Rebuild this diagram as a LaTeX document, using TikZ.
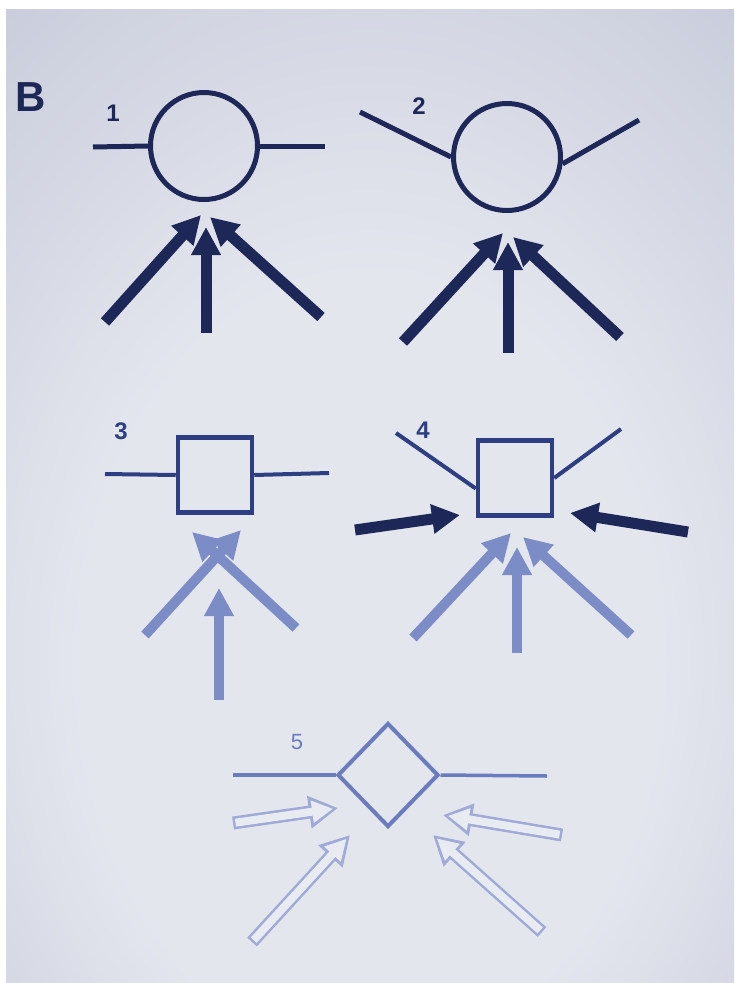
\documentclass[tikz,border=0pt]{standalone}
\usepackage{fontspec}
\setmainfont{Liberation Sans}
\usetikzlibrary{arrows.meta,shapes.geometric}
\definecolor{navy}{HTML}{1E2858}
\definecolor{midnavy}{HTML}{2E3E82}
\definecolor{softblue}{HTML}{7C8CC6}
\definecolor{paleblue}{HTML}{6A7CBE}
\definecolor{ghostline}{HTML}{A0AAD6}
\definecolor{ghostfill}{HTML}{E9EBF3}
\definecolor{glowin}{HTML}{E4E6EE}
\definecolor{glowmid}{HTML}{BEC3D4}
\definecolor{glowout}{HTML}{8A92AE}
\pgfdeclareradialshading{screenglow}{\pgfpoint{0bp}{-12bp}}{color(0bp)=(glowin); color(20bp)=(glowin); color(48bp)=(glowmid); color(72bp)=(glowout)}
\newcommand\hollowarrow[2]{%
	\draw[ghostout] (#1) -- (#2);
	\draw[ghostin] (#1) -- (#2);}

\begin{document}
\begin{tikzpicture}[x=1pt, y=-1pt,
	ring/.style={circle, draw=navy, line width=5pt, minimum size=107pt, inner sep=0pt},
	tile/.style={rectangle, draw=midnavy, line width=4.5pt, minimum width=74pt, minimum height=75pt, inner sep=0pt},
	gem/.style={diamond, draw=paleblue, line width=4pt, minimum width=101pt, minimum height=104pt, inner sep=0pt},
	wire/.style={line width=5pt},
	push/.style={line width=11pt, -{Triangle[length=28pt,width=28pt]}},
	ghostout/.style={ghostline, line width=13pt, -{Triangle[length=29pt,width=31pt]}},
	ghostin/.style={ghostfill, line width=8pt, shorten >=5pt, shorten <=2.5pt, -{Triangle[length=21pt,width=21pt]}},
	tag/.style={font=\bfseries\fontsize{24}{24}\selectfont}]
	\useasboundingbox (0,0) rectangle (734,983);
	\shade[shading=screenglow] (6,9) rectangle (734,983);
	\fill[white] (0,0) rectangle (734,9);
	\fill[white] (0,0) rectangle (6,983);

	\node[font=\bfseries\fontsize{42}{42}\selectfont, text=navy] (B) at (31,97) {B};

	% 1
	\node[ring] (c1) at (204,146) {};
	\node[tag, text=navy] (n1) at (113,113) {1};
	\coordinate (c1l) at (93,147);
	\coordinate (c1r) at (325,146);
	\draw[wire, navy] (c1l) -- (c1.west);
	\draw[wire, navy] (c1.east) -- (c1r);
	\coordinate (a1) at (105,322); \coordinate (a1t) at (201,215);
	\coordinate (b1) at (206,333); \coordinate (b1t) at (206,227);
	\coordinate (d1) at (321,317); \coordinate (d1t) at (210,217);
	\draw[push, navy] (a1) -- (a1t);
	\draw[push, navy] (b1) -- (b1t);
	\draw[push, navy] (d1) -- (d1t);

	% 2
	\node[ring] (c2) at (507,157) {};
	\node[tag, text=navy] (n2) at (419,106) {2};
	\coordinate (c2l) at (360,112);
	\coordinate (c2r) at (639,120);
	\draw[wire, navy] (c2l) -- (c2.west);
	\draw[wire, navy] (c2.-7) -- (c2r);
	\coordinate (a2) at (403,342); \coordinate (a2t) at (503,233);
	\coordinate (b2) at (508,353); \coordinate (b2t) at (508,242);
	\coordinate (d2) at (620,337); \coordinate (d2t) at (513,237);
	\draw[push, navy] (a2) -- (a2t);
	\draw[push, navy] (b2) -- (b2t);
	\draw[push, navy] (d2) -- (d2t);

	% 3
	\node[tile] (s3) at (215,475) {};
	\node[tag, text=midnavy] (n3) at (121,431) {3};
	\coordinate (s3l) at (105,474);
	\coordinate (s3r) at (329,473);
	\draw[wire, line width=4pt, midnavy] (s3l) -- (s3.west);
	\draw[wire, line width=4pt, midnavy] (s3.east) -- (s3r);
	\coordinate (a3) at (145,635); \coordinate (a3t) at (241,530);
	\coordinate (d3) at (296,628); \coordinate (d3t) at (192,532);
	\coordinate (b3) at (219,700); \coordinate (b3t) at (219,588);
	\draw[push, line width=10pt, softblue] (a3) -- (a3t);
	\draw[push, line width=10pt, softblue] (d3) -- (d3t);
	\draw[push, line width=10pt, softblue] (b3) -- (b3t);

	% 4
	\node[tile] (s4) at (515,478) {};
	\node[tag, text=midnavy] (n4) at (423,430) {4};
	\coordinate (s4l) at (396,433);
	\coordinate (s4r) at (621,429);
	\draw[wire, line width=4pt, midnavy] (s4l) -- (s4.195);
	\draw[wire, line width=4pt, midnavy] (s4.east) -- (s4r);
	\coordinate (e4) at (355,530); \coordinate (e4t) at (460,515);
	\coordinate (f4) at (688,532); \coordinate (f4t) at (570,513);
	\draw[push, navy] (e4) -- (e4t);
	\draw[push, navy] (f4) -- (f4t);
	\coordinate (a4) at (413,638); \coordinate (a4t) at (511,533);
	\coordinate (b4) at (517,653); \coordinate (b4t) at (517,547);
	\coordinate (d4) at (631,635); \coordinate (d4t) at (523,537);
	\draw[push, line width=10pt, softblue] (a4) -- (a4t);
	\draw[push, line width=10pt, softblue] (b4) -- (b4t);
	\draw[push, line width=10pt, softblue] (d4) -- (d4t);

	% 5
	\node[gem] (d5) at (388,775) {};
	\node[font=\fontsize{22}{22}\selectfont, text=paleblue] (n5) at (297,742) {5};
	\coordinate (d5l) at (233,775);
	\coordinate (d5r) at (547,776);
	\draw[wire, line width=3.5pt, paleblue] (d5l) -- (d5.west);
	\draw[wire, line width=3.5pt, paleblue] (d5.east) -- (d5r);
	\coordinate (e5) at (233,823); \coordinate (e5t) at (338,808);
	\coordinate (f5) at (562,835); \coordinate (f5t) at (443,815);
	\coordinate (a5) at (252,942); \coordinate (a5t) at (350,835);
	\coordinate (b5) at (542,932); \coordinate (b5t) at (433,835);
	\hollowarrow{e5}{e5t}
	\hollowarrow{f5}{f5t}
	\hollowarrow{a5}{a5t}
	\hollowarrow{b5}{b5t}
\end{tikzpicture}
\end{document}
